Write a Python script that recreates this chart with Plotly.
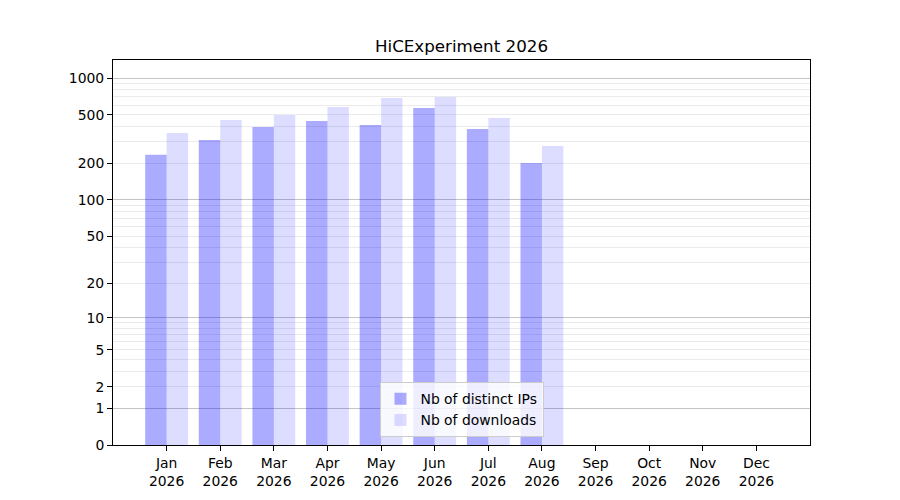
import plotly.graph_objects as go

months = ["Jan", "Feb", "Mar", "Apr", "May", "Jun", "Jul", "Aug", "Sep", "Oct", "Nov", "Dec"]
year = "2026"
ips = [235, 311, 397, 445, 413, 569, 383, 201]
downloads = [355, 454, 498, 580, 687, 700, 471, 278]
ytick_values = [0, 1, 2, 5, 10, 20, 50, 100, 200, 500, 1000]
major_grid = [1, 10, 100, 1000]
minor_grid = [m * d for d in (1, 10, 100) for m in range(2, 10)]

# axis is log10(1 + value): plot on a log axis with bars starting at 1
x_ips = list(range(len(ips)))
x_dl = list(range(len(downloads)))

fig = go.Figure()
fig.add_trace(go.Bar(
    x=x_ips, y=ips, base=1, width=0.4, offset=-0.4,
    marker=dict(color="rgba(0,0,255,0.33)", line=dict(width=0)),
    name="Nb of distinct IPs",
))
fig.add_trace(go.Bar(
    x=x_dl, y=downloads, base=1, width=0.4, offset=0,
    marker=dict(color="rgba(0,0,255,0.135)", line=dict(width=0)),
    name="Nb of downloads",
))

font = "DejaVu Sans"
L, R, T, B = 105, 98, 52, 63
fig.update_layout(
    width=900, height=500,
    margin=dict(l=L, r=R, t=T, b=B),
    plot_bgcolor="white", paper_bgcolor="white",
    barmode="overlay",
    font=dict(family=font, size=13.9, color="black"),
    title=dict(text="HiCExperiment 2026", x=(L + 900 - R) / 2 / 900, xanchor="center",
               y=1 - 38 / 500, yanchor="middle", font=dict(size=16.7, family=font)),
    showlegend=True,
    legend=dict(x=0.5, xanchor="center", y=0.02, yanchor="bottom",
                bgcolor="rgba(255,255,255,0.8)", bordercolor="#cccccc", borderwidth=1,
                font=dict(size=13.9), itemwidth=30, tracegroupgap=0),
    xaxis=dict(
        range=[-1, 12], tickmode="array", tickvals=list(range(12)),
        ticktext=[f"{m}<br>{year}" for m in months],
        showgrid=False, zeroline=False, showline=True, linecolor="black", linewidth=1,
        mirror=True, ticks="outside", ticklen=5, tickcolor="black",
    ),
    yaxis=dict(
        type="log", range=[0, 3.148],
        tickmode="array", tickvals=[1 + v for v in ytick_values],
        ticktext=[str(v) for v in ytick_values],
        showgrid=False, zeroline=False, showline=True, linecolor="black", linewidth=1,
        mirror=True, ticks="outside", ticklen=5, tickcolor="black",
        minor=dict(tickvals=[1 + v for v in minor_grid], showgrid=True,
                   gridcolor="#ebebeb", gridwidth=1, ticklen=0),
    ),
    yaxis2=dict(
        type="log", range=[0, 3.148], overlaying="y", side="left",
        tickmode="array", tickvals=[1 + v for v in major_grid], showticklabels=False,
        showgrid=True, gridcolor="#c4c4c4", gridwidth=1, zeroline=False, showline=False,
        ticks="",
    ),
)
# dummy trace to activate yaxis2
fig.add_trace(go.Scatter(x=[None], y=[None], yaxis="y2", showlegend=False, hoverinfo="skip"))

fig.write_html("out.html")
